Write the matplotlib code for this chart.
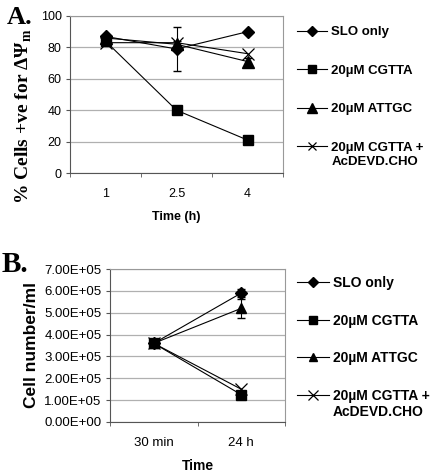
import matplotlib
matplotlib.use("Agg")
import matplotlib.pyplot as plt
import numpy as np
from matplotlib.ticker import FuncFormatter

plt.rcParams['font.family'] = ['Liberation Sans', 'DejaVu Sans']

# Panel A data
a_times = ["1", "2.5", "4"]
a_slo = [87, 79, 90]
a_slo_err = [0, 14, 0]
a_cgtta = [84, 40, 21]
a_attgc = [86, 82, 71]
a_attgc_err = [0, 2, 2]
a_combo = [83, 83, 76]

# Panel B data
b_times = ["30 min", "24 h"]
b_slo = [3.6e5, 5.9e5]
b_slo_err = [0, 0.2e5]
b_cgtta = [3.6e5, 1.25e5]
b_attgc = [3.6e5, 5.2e5]
b_attgc_err = [0, 0.45e5]
b_combo = [3.6e5, 1.5e5]

labels = ["SLO only", "20\u00b5M CGTTA", "20\u00b5M ATTGC", "20\u00b5M CGTTA +"]
label_extra = "AcDEVD.CHO"

W, H = 434, 474
fig = plt.figure(figsize=(W/100, H/100), dpi=100)
serif = ['Liberation Serif', 'DejaVu Serif']

def style_axes(ax, n):
    for s in ax.spines.values():
        s.set_color('#999999')
        s.set_linewidth(0.8)
    ax.spines['left'].set_color('#555555')
    ax.spines['bottom'].set_color('#555555')
    ax.set_xlim(-0.5, n - 0.5)
    ax.set_xticks(np.arange(n))
    ax.set_xticks(np.arange(n + 1) - 0.5, minor=True)
    ax.tick_params(axis='x', which='major', length=0, pad=11)
    ax.tick_params(axis='x', which='minor', length=3, direction='out', color='#555555')
    ax.tick_params(axis='y', length=3, direction='out', color='#555555', pad=3)
    ax.yaxis.grid(True, color='#b0b0b0', linewidth=0.9)
    ax.set_axisbelow(True)

mk = dict(color='black', linewidth=0.8)

def add_legend(handles, anchor, size, spacing):
    leg = fig.legend(handles, labels, loc='upper left', bbox_to_anchor=anchor,
                     frameon=False, handlelength=2.3, handletextpad=0.3,
                     labelspacing=spacing, borderaxespad=0, borderpad=0,
                     markerscale=0.8, prop={'weight': 'bold', 'size': size})
    return leg

# ---------- Panel A ----------
axA = fig.add_axes([70/W, 1 - 173/H, 213/W, 157/H])
x = np.arange(len(a_times))
h1 = axA.errorbar(x, a_slo, yerr=a_slo_err, marker='D', markersize=6, capsize=3, elinewidth=0.8, **mk)
h2, = axA.plot(x, a_cgtta, marker='s', markersize=7, **mk)
h3 = axA.errorbar(x, a_attgc, yerr=a_attgc_err, marker='^', markersize=9, capsize=3, elinewidth=0.8, **mk)
h4, = axA.plot(x, a_combo, marker='x', markersize=8, markeredgewidth=0.9, **mk)
axA.set_ylim(0, 100)
axA.set_yticks(np.arange(0, 101, 20))
style_axes(axA, len(a_times))
axA.set_xticklabels(a_times, fontsize=9)
axA.tick_params(axis='y', labelsize=9)
axA.set_xlabel("Time (h)", fontsize=9, fontweight='bold', labelpad=8)
fig.text(24/W, 1 - 116/H, "% Cells +ve for \u0394\u03a8$_\\mathregular{m}$", fontsize=14, fontweight='bold',
         family=serif, rotation=90, va='center', ha='center')
fig.text(7/W, 1 - 17/H, "A.", fontsize=19, fontweight='bold', family=serif, va='center', ha='left')

legA = add_legend([h1[0], h2, h3[0], h4], (297/W, 1 - 26/H), 9.5, 2.0)

# ---------- Panel B ----------
axB = fig.add_axes([110/W, 1 - 422/H, 175/W, 153/H])
xb = np.arange(len(b_times))
g1 = axB.errorbar(xb, b_slo, yerr=b_slo_err, marker='D', markersize=6, capsize=3, elinewidth=0.8, **mk)
g2, = axB.plot(xb, b_cgtta, marker='s', markersize=7, **mk)
g3 = axB.errorbar(xb, b_attgc, yerr=b_attgc_err, marker='^', markersize=7, capsize=3, elinewidth=0.8, **mk)
g4, = axB.plot(xb, b_combo, marker='x', markersize=9, markeredgewidth=0.9, **mk)
axB.set_ylim(0, 7e5)
axB.set_yticks(np.arange(0, 7.01e5, 1e5))
axB.yaxis.set_major_formatter(FuncFormatter(lambda v, p: "%.2fE+05" % (v / 1e5) if v > 0 else "0.00E+00"))
style_axes(axB, len(b_times))
axB.set_xticklabels(b_times, fontsize=9.5)
axB.tick_params(axis='y', labelsize=9.5)
axB.set_xlabel("Time", fontsize=10, fontweight='bold', labelpad=7)
axB.set_ylabel("Cell number/ml", fontsize=12.5, fontweight='bold', labelpad=4)
fig.text(2/W, 1 - 265/H, "B.", fontsize=21, fontweight='bold', family=serif, va='center', ha='left')

legB = add_legend([g1[0], g2, g3[0], g4], (297/W, 1 - 276/H), 10, 1.7)

# second line of the last legend label, placed right under its first line
fig.canvas.draw()
for leg, size in ((legA, 9.5), (legB, 10)):
    t = leg.get_texts()[-1]
    bb = t.get_window_extent()
    fig.text(bb.x0 / W, (bb.y0 - 2) / H, label_extra, fontsize=size, fontweight='bold',
             va='top', ha='left')

fig.savefig("out.png", dpi=100)
